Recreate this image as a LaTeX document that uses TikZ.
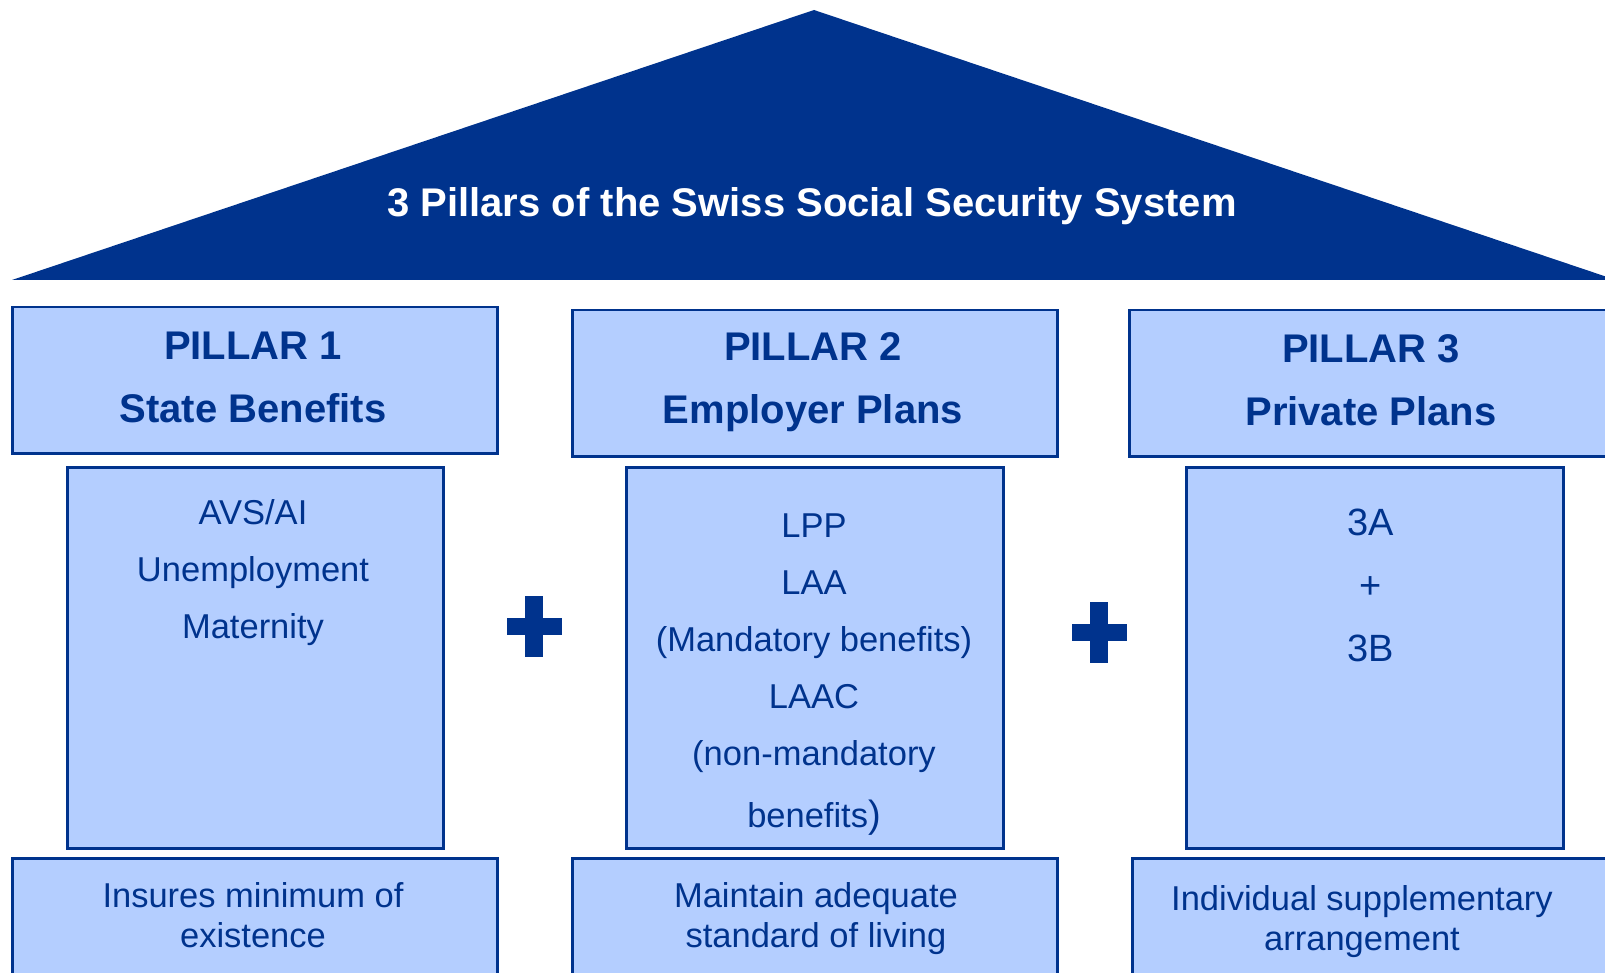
\documentclass[tikz,border=0pt]{standalone}
\usepackage{fontspec}
\setmainfont{Liberation Sans}
\definecolor{kblue}{RGB}{0,51,141}
\definecolor{kpale}{RGB}{180,206,255}

\begin{document}
\begin{tikzpicture}[x=1pt, y=-1pt,
    box/.style={draw=kblue, fill=kpale, line width=2.5pt, anchor=north west, inner sep=0pt},
    txt/.style={text=kblue, align=center, inner sep=0pt},
    body/.style={txt, font=\fontsize{34.5}{57}\selectfont},
    head/.style={txt, font=\bfseries\fontsize{40}{63}\selectfont}]
    \useasboundingbox (0,0) rectangle (1605,973);

    % roof
    \coordinate (eaveL) at (12, 280);
    \coordinate (apex) at (814, 10);
    \coordinate (eaveR) at (1616, 280);
    \fill[kblue] (eaveL) -- (apex) -- (eaveR) -- cycle;
    \node[txt, text=white, font=\bfseries\fontsize{40}{50}\selectfont] (title) at (812, 206)
        {3 Pillars of the Swiss Social Security System};

    % pillar heads
    \node[box, minimum width=485, minimum height=146] (head1) at (11, 306) {};
    \node[box, minimum width=485, minimum height=146] (head2) at (571, 309) {};
    \node[box, minimum width=486, minimum height=146] (head3) at (1128, 309) {};
    \node[head] (name1) at (253, 377) {PILLAR 1\\State Benefits};
    \node[head] (name2) at (813, 382) {PILLAR 2\\Employer Plans};
    \node[head] (name3) at (1371, 380) {PILLAR 3\\Private Plans};

    % pillar shafts
    \node[box, minimum width=376, minimum height=381] (core1) at (66, 466) {};
    \node[box, minimum width=377, minimum height=381] (core2) at (625, 466) {};
    \node[box, minimum width=377, minimum height=381] (core3) at (1185, 466) {};
    \node[body] (list1) at (253, 573) {AVS/AI\\Unemployment\\Maternity};
    \node[body] (list2) at (814, 675)
        {LPP\\LAA\\(Mandatory benefits)\\LAAC\\(non-mandatory\\[5pt]benefits{\fontsize{38}{57}\selectfont)}};
    \node[txt, font=\fontsize{38}{63}\selectfont] (list3) at (1371, 585) {3A\\+\\3B};

    % pillar bases
    \node[box, minimum width=485, minimum height=150] (base1) at (11, 857) {};
    \node[box, minimum width=485, minimum height=150] (base2) at (571, 857) {};
    \node[box, minimum width=485, minimum height=150] (base3) at (1131, 857) {};
    \node[txt, font=\fontsize{34.5}{40}\selectfont] (goal1) at (253, 915) {Insures minimum of\\existence};
    \node[txt, font=\fontsize{34.5}{40}\selectfont] (goal2) at (816, 919) {Maintain adequate\\standard of living};
    \node[txt, font=\fontsize{34.5}{40}\selectfont] (goal3) at (1362, 922) {Individual supplementary\\arrangement};

    % plus signs
    \foreach \px/\py in {534/626.5, 1099/632} {
        \fill[kblue] (\px-9, \py-30.5) rectangle ++(18, 61);
        \fill[kblue] (\px-27.5, \py-8.5) rectangle ++(55, 17);
    }
\end{tikzpicture}
\end{document}
